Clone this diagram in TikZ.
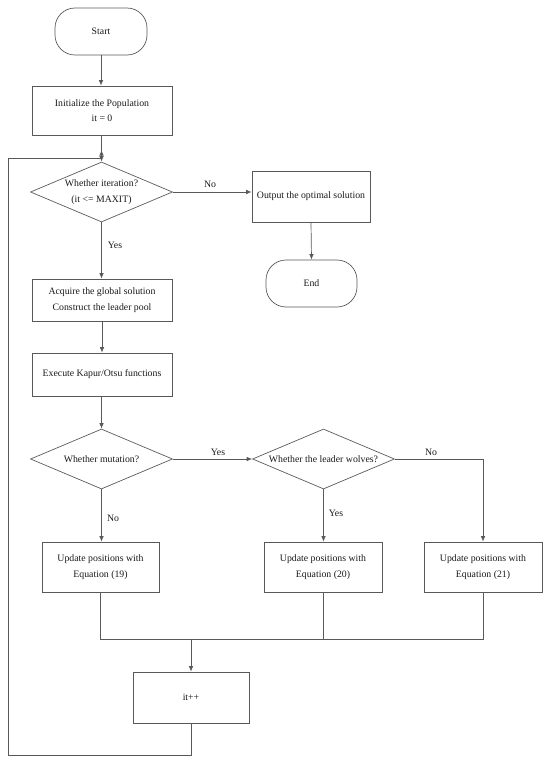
\documentclass[tikz,border=0pt]{standalone}
\usepackage{fontspec}
\setmainfont{Liberation Serif}
\usetikzlibrary{shapes.geometric,arrows.meta}
\begin{document}
\begin{tikzpicture}[x=1pt,y=-1pt,
  line/.style={draw=black!65,line width=0.7pt},
  arr/.style={line,-{Latex[length=5.5pt,width=4.5pt]}},
  txt/.style={font=\fontsize{9.8}{15.5}\selectfont,text=black!90,align=center},
  proc/.style={txt,line,rectangle,inner sep=0pt},
  term/.style={txt,line,rectangle,rounded corners=20pt,inner sep=0pt},
  dec/.style={txt,line,diamond,inner sep=0pt,aspect=2.35,minimum width=142pt,minimum height=60pt},
  lbl/.style={txt,inner sep=0pt}]
\useasboundingbox (0,0) rectangle (550,765);
\node[term,minimum width=92pt,minimum height=47pt] (start) at (101,31.5) {Start};
\node[proc,minimum width=140pt,minimum height=49pt] (init) at (102,110.5) {Initialize the Population\\it = 0};
\node[dec] (d1) at (101.5,192) {Whether iteration?\\(it <= MAXIT)};
\node[proc,minimum width=118pt,minimum height=51pt] (out) at (311,196.5) {Output the optimal solution};
\node[term,minimum width=91pt,minimum height=47pt] (end) at (311.5,283.5) {End};
\node[proc,minimum width=140pt,minimum height=42pt] (acq) at (102,300) {Acquire the global solution\\Construct the leader pool};
\node[proc,minimum width=140pt,minimum height=43pt] (exe) at (102,374.5) {Execute Kapur/Otsu functions};
\node[dec] (d2) at (101.5,459) {Whether mutation?};
\node[dec] (d3) at (323.5,459) {Whether the leader wolves?};
\node[proc,minimum width=117pt,minimum height=50pt] (b1) at (100.5,567) {Update positions with\\Equation (19)};
\node[proc,minimum width=118pt,minimum height=50pt] (b2) at (323,567) {Update positions with\\Equation (20)};
\node[proc,minimum width=118pt,minimum height=50pt] (b3) at (483,567) {Update positions with\\Equation (21)};
\node[proc,minimum width=116pt,minimum height=51pt] (it) at (191,697.5) {it++};
\coordinate (lb) at (8,755);
\coordinate (lt) at (8,158);
\coordinate (lj) at (101.5,158);
\coordinate (la) at (101.5,150);
\coordinate (ml) at (100.5,639);
\coordinate (mr) at (483,639);
\coordinate (m) at (191,639);
\draw[arr] (start.south) -- (start.south |- init.north);
\draw[arr] (init.south -| d1.north) -- (d1.north);
\draw[arr] (it.south) |- (lb) -- (lt) -- (lj) -- (la);
\draw[arr] (d1.east) -- (out.west |- d1.east);
\draw[arr] (out.south) -- (end.north);
\draw[arr] (d1.south) -- (acq.north -| d1.south);
\draw[arr] (acq.south) -- (exe.north);
\draw[arr] (exe.south -| d2.north) -- (d2.north);
\draw[arr] (d2.east) -- (d3.west);
\draw[arr] (d3.east) -| (b3.north);
\draw[arr] (d3.south) -- (b2.north -| d3.south);
\draw[arr] (d2.south) -- (b1.north -| d2.south);
\draw[line] (b1.south) -- (ml) -- (mr) -- (b3.south);
\draw[line] (b2.south) -- (b2.south |- mr);
\draw[arr] (m) -- (it.north);
\node[lbl] (l1) at (210,184) {No};
\node[lbl] (l2) at (115,245) {Yes};
\node[lbl] (l3) at (218,452) {Yes};
\node[lbl] (l4) at (431,452) {No};
\node[lbl] (l5) at (113,518) {No};
\node[lbl] (l6) at (336,513) {Yes};
\end{tikzpicture}
\end{document}
